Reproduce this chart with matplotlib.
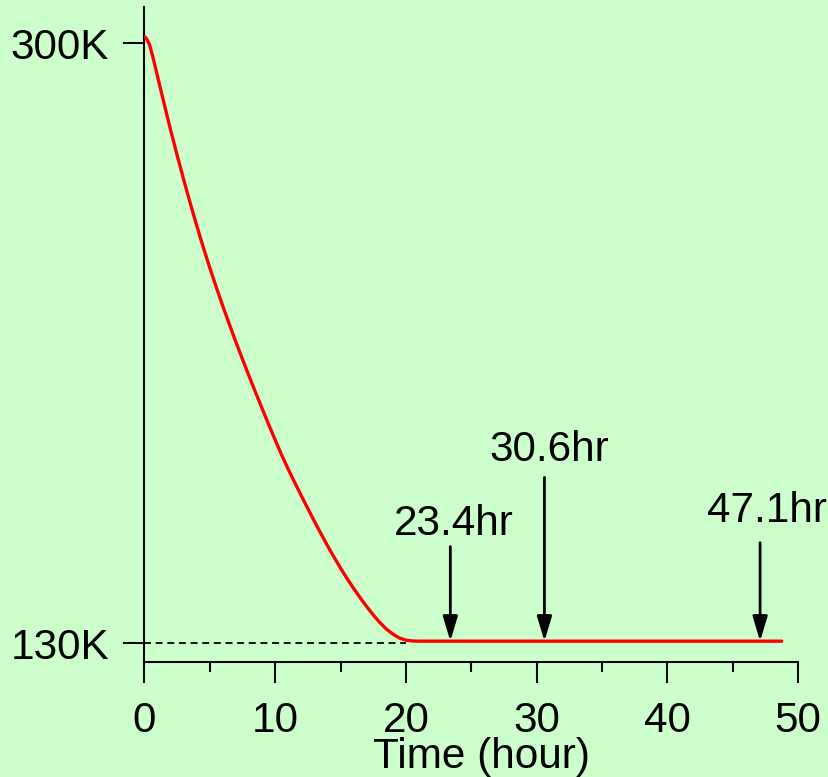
import matplotlib
matplotlib.use("Agg")
import matplotlib.pyplot as plt

# Cool-down temperature history
time_hr = [0.0, 0.15, 0.37, 0.63, 1.0, 1.5, 2.0, 2.5, 3.0, 3.5, 4.0, 4.5,
           5.0, 5.5, 6.0, 6.5, 7.0, 7.5, 8.0, 8.5, 9.0, 9.5, 10.0, 10.5,
           11.0, 11.5, 12.0, 12.5, 13.0, 13.5, 14.0, 14.5, 15.0, 15.5, 16.0,
           16.5, 17.0, 17.5, 18.0, 18.5, 19.0, 19.5, 20.0, 20.5, 21.0,
           25.0, 30.0, 35.0, 40.0, 45.0, 48.75]
temp_K = [301.9, 301.3, 299.8, 296.3, 290.6, 282.9, 275.4, 268.25, 261.35,
          254.7, 248.3, 242.15, 236.35, 230.8, 225.45, 220.3, 215.3, 210.45,
          205.7, 201.05, 196.5, 192.0, 187.6, 183.3, 179.3, 175.5, 171.8,
          168.15, 164.55, 161.05, 157.65, 154.4, 151.3, 148.35, 145.55, 142.9,
          140.4, 138.05, 135.9, 134.05, 132.6, 131.5, 130.9, 130.65, 130.6,
          130.6, 130.6, 130.6, 130.6, 130.6, 130.6]

target_K = 130.0
target_reached_hr = 20.0

event_hr = [23.4, 30.6, 47.1]
event_labels = ["23.4hr", "30.6hr", "47.1hr"]

ytick_vals = [130, 300]
ytick_labels = ["130K", "300K"]
xtick_vals = [0, 10, 20, 30, 40, 50]
xtick_minor = [5, 15, 25, 35, 45]

bg = "#ccffcc"
plt.rcParams["font.family"] = ["Liberation Sans", "DejaVu Sans"]
plt.rcParams["font.size"] = 30.4

fig = plt.figure(figsize=(8.29, 7.77), dpi=100, facecolor=bg)
ax = fig.add_axes([144.5 / 829, 1 - 662 / 777, (798 - 144.5) / 829, (662 - 7.3) / 777])
ax.set_facecolor(bg)

ax.set_xlim(0, 50)
ax.set_ylim(124.7, 310.2)

# dashed reference level up to the time the target is reached
ax.plot([0, target_reached_hr], [target_K, target_K], color="black", lw=1.3,
        linestyle=(0, (3.85, 2.6)), zorder=2)

ax.plot(time_hr, temp_K, color="#ff0000", lw=2.4, zorder=3,
        solid_capstyle="round", solid_joinstyle="round")

# arrows marking events on the plateau
arrow_tops = [157.4, 177.0, 158.5]
label_pos = [(23.66, 160.7), (31.0, 181.6), (47.6, 164.4)]
for t, top, lab, (lx, ly) in zip(event_hr, arrow_tops, event_labels, label_pos):
    ax.annotate("", xy=(t, 130.6), xytext=(t, top),
                arrowprops=dict(arrowstyle="-|>,head_length=1.5,head_width=0.45",
                                lw=2.0, color="black", shrinkA=0, shrinkB=0,
                                mutation_scale=10), zorder=4)
    ax.text(lx, ly, lab, ha="center", va="baseline", color="black")

for side in ("top", "right"):
    ax.spines[side].set_visible(False)
for side in ("left", "bottom"):
    ax.spines[side].set_linewidth(1.5)

ax.set_xticks(xtick_vals)
ax.set_xticks(xtick_minor, minor=True)
ax.set_yticks(ytick_vals)
ax.set_yticklabels(ytick_labels)
ax.tick_params(axis="both", which="major", direction="out", length=15, width=1.5,
               color="black")
ax.tick_params(axis="x", which="major", pad=13.0)
ax.tick_params(axis="y", which="major", pad=10.6)
ax.tick_params(axis="x", which="minor", direction="out", length=7.2, width=1.5)

ax.set_xlabel("Time (hour)")
ax.xaxis.set_label_coords(0.516, -0.1146)

fig.savefig("out.png", dpi=100, facecolor=bg)
